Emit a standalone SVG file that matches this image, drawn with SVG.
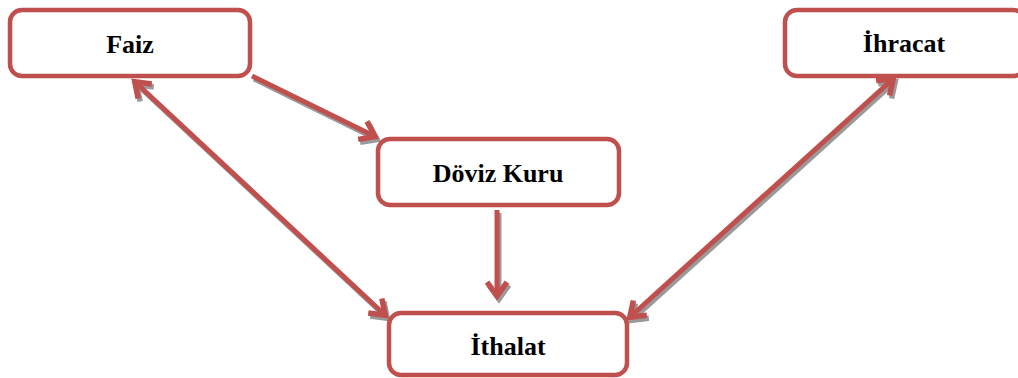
<svg xmlns="http://www.w3.org/2000/svg" width="1018" height="378" viewBox="0 0 1018 378">
<style>
.box{fill:#fff;stroke:#C0504D;stroke-width:4.5}
.lbl{font-family:"Liberation Serif","Times New Roman",serif;font-weight:bold;font-size:26px;fill:#000;text-anchor:middle}
.ln{stroke:#C0504D;stroke-width:5;fill:none}
.sh{stroke:#9A9A9A;stroke-width:5;fill:none}
</style>
<defs>
<marker id="ar" viewBox="-20 -12 24 24" refX="0" refY="0" markerWidth="24" markerHeight="24" markerUnits="userSpaceOnUse" orient="auto-start-reverse">
<path d="M-15,-10 L-1,0 L-15,10" fill="none" stroke="#C0504D" stroke-width="5.5"/>
</marker>
<marker id="ag" viewBox="-20 -12 24 24" refX="0" refY="0" markerWidth="24" markerHeight="24" markerUnits="userSpaceOnUse" orient="auto-start-reverse">
<path d="M-15,-10 L-1,0 L-15,10" fill="none" stroke="#9A9A9A" stroke-width="5.5"/>
</marker>
</defs>
<g id="connectors">
<g transform="translate(2,3)">
<line class="sh" x1="252" y1="76" x2="376" y2="137" marker-end="url(#ag)"/>
<line class="sh" x1="134" y1="81" x2="386" y2="316" marker-start="url(#ag)" marker-end="url(#ag)"/>
<line class="sh" x1="497" y1="210" x2="497" y2="297" marker-end="url(#ag)"/>
<line class="sh" x1="629" y1="318" x2="894" y2="78" marker-start="url(#ag)" marker-end="url(#ag)"/>
</g>
<line class="ln" x1="252" y1="76" x2="376" y2="137" marker-end="url(#ar)"/>
<line class="ln" x1="134" y1="81" x2="386" y2="316" marker-start="url(#ar)" marker-end="url(#ar)"/>
<line class="ln" x1="497" y1="210" x2="497" y2="297" marker-end="url(#ar)"/>
<line class="ln" x1="629" y1="318" x2="894" y2="78" marker-start="url(#ar)" marker-end="url(#ar)"/>
</g>
<g id="faiz">
<rect class="box" x="10" y="10" width="240" height="66" rx="12"/>
<text class="lbl" x="130" y="53">Faiz</text>
</g>
<g id="doviz-kuru">
<rect class="box" x="378" y="139" width="241" height="66" rx="12"/>
<text class="lbl" x="498" y="182">Döviz Kuru</text>
</g>
<g id="ithalat">
<rect class="box" x="389" y="313" width="238" height="62" rx="12"/>
<text class="lbl" x="508" y="355">İthalat</text>
</g>
<g id="ihracat">
<rect class="box" x="785" y="10" width="240" height="66" rx="12"/>
<text class="lbl" x="904" y="52">İhracat</text>
</g>
</svg>
